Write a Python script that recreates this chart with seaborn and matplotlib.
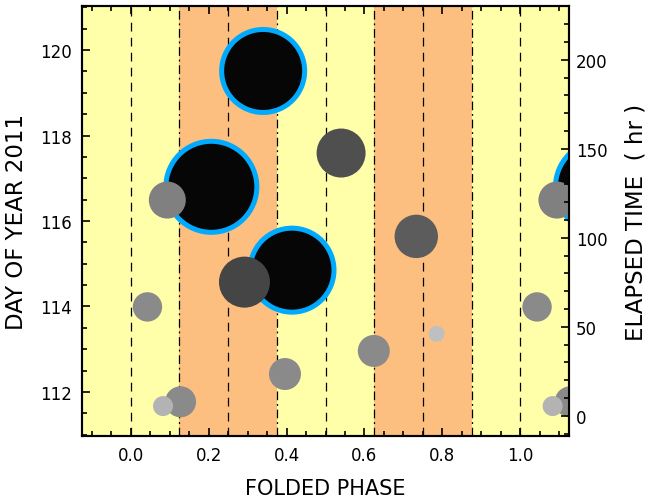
import numpy as np
import pandas as pd
import matplotlib
matplotlib.use("Agg")
import matplotlib.pyplot as plt
from matplotlib.ticker import MultipleLocator, FormatStrFormatter
import seaborn as sns

# observed events: folded phase, day of year, amplitude, grey level of the marker
phase = [0.340, 0.207, 0.414, 0.292, 0.540, 0.733, 0.094, 0.043, 0.128, 0.083, 0.396, 0.624, 0.785]
day = [119.51, 116.80, 114.85, 114.57, 117.59, 115.64, 116.49, 113.99, 111.77, 111.67, 112.42, 112.96, 113.36]
amp = [4.40, 4.80, 4.45, 2.55, 2.45, 2.17, 1.85, 1.47, 1.55, 1.00, 1.60, 1.60, 0.80]
grey = [0.03, 0.03, 0.03, 0.27, 0.31, 0.36, 0.50, 0.54, 0.54, 0.70, 0.54, 0.54, 0.75]

dashed_phase = [0.0, 0.25, 0.5, 0.75, 1.0]
band_edges = [0.125, 0.375, 0.625, 0.875]
bands = [(0.125, 0.375), (0.625, 0.875)]

t0_day = 111.44  # start of elapsed time
xlim = (-0.125, 1.125)
ylim = (110.97, 121.03)

YELLOW = "#ffffaa"
ORANGE = "#fdbf80"
BLUE = "#00aaff"

sns.set_style("ticks")
plt.rcParams["font.family"] = ["DejaVu Sans"]
plt.rcParams.update({
    "text.color": "black",
    "axes.labelcolor": "black",
    "xtick.color": "black",
    "ytick.color": "black",
    "axes.edgecolor": "black",
})

df = pd.DataFrame({"phase": phase, "day": day, "amp": amp, "grey": grey})
# repeat one cycle on each side so the folded plot wraps
df = pd.concat([df.assign(phase=df.phase + k) for k in (-1, 0, 1)], ignore_index=True)
df = df.sort_values("amp", ascending=False)
# marker diameter in points, amp is in units of 10 px radius
df["s"] = (2 * df.amp * 10 * 0.72) ** 2

fig = plt.figure(figsize=(6.5, 5.02), dpi=100)
ax = fig.add_axes([82 / 650, 65 / 502, 487 / 650, 430 / 502])
ax.set_facecolor(YELLOW)
for lo, hi in bands:
    ax.axvspan(lo, hi, color=ORANGE, lw=0, zorder=0)
for xv in dashed_phase:
    ax.axvline(xv, color="black", lw=0.9, ls=(0, (7, 5)), zorder=1)
for xv in band_edges:
    ax.axvline(xv, color="black", lw=0.9, ls=(0, (7, 3, 1.5, 3)), zorder=1)

big = df[df.amp > 3].copy()
small = df[df.amp <= 3].copy()
ring = 5 * 0.72
big["s"] = (2 * (big.amp * 10 - 2.5) * 0.72) ** 2

sns.scatterplot(data=big, x="phase", y="day", size="s",
                sizes={v: v for v in big.s.unique()}, color="#060606",
                edgecolor=BLUE, linewidth=ring, legend=False, ax=ax, zorder=3)
sns.scatterplot(data=small, x="phase", y="day", size="s",
                sizes={v: v for v in small.s.unique()}, hue="grey",
                palette={g: str(g) for g in small.grey.unique()},
                edgecolor="none", linewidth=0, legend=False, ax=ax, zorder=4)

ax.set_xlim(*xlim)
ax.set_ylim(*ylim)
ax.xaxis.set_major_locator(MultipleLocator(0.2))
ax.xaxis.set_minor_locator(MultipleLocator(0.05))
ax.yaxis.set_major_locator(MultipleLocator(2))
ax.yaxis.set_minor_locator(MultipleLocator(0.5))
ax.xaxis.set_major_formatter(FormatStrFormatter("%.1f"))
ax.tick_params(which="both", direction="in", top=True, right=False,
               labelsize=12, width=1.2, pad=7)
ax.tick_params(which="major", length=6)
ax.tick_params(which="minor", length=3.5)

ax2 = ax.twinx()
ax2.set_ylim((ylim[0] - t0_day) * 24, (ylim[1] - t0_day) * 24)
ax2.yaxis.set_major_locator(MultipleLocator(50))
ax2.yaxis.set_minor_locator(MultipleLocator(10))
ax2.tick_params(which="both", direction="in", labelsize=12, width=1.2, pad=5)
ax2.tick_params(which="major", length=6)
ax2.tick_params(which="minor", length=3.5)

for a in (ax, ax2):
    for sp in a.spines.values():
        sp.set_linewidth(1.5)
        sp.set_color("black")

ax.set_xlabel("FOLDED PHASE", fontsize=15, labelpad=10)
ax.set_ylabel("DAY OF YEAR 2011", fontsize=16.5, labelpad=9)
ax2.set_ylabel("ELAPSED TIME  ( hr )", fontsize=16.5, labelpad=12)
ax.grid(False)

fig.savefig("out.png", dpi=100)
